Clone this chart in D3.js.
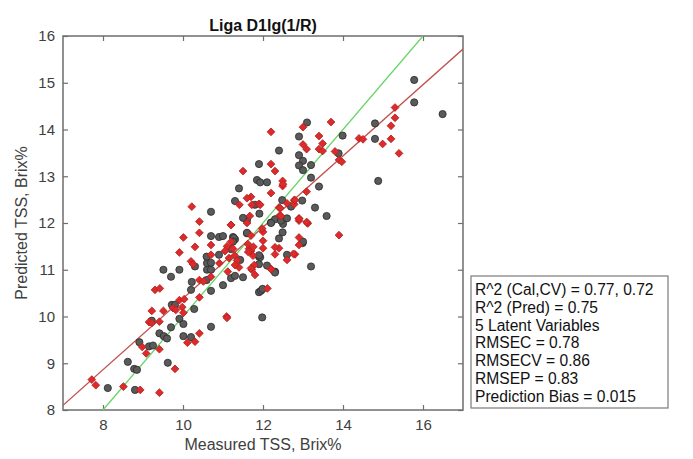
<!DOCTYPE html>
<html>
<head>
<meta charset="utf-8">
<script src="https://cdn.jsdelivr.net/npm/d3@7"></script>
<style>
  body { margin: 0; background: #fff; }
  svg { font-family: "Liberation Sans", Arial, sans-serif; }
</style>
</head>
<body>
<div id="chart"></div>
<script>
// Measured vs predicted TSS scatter with 1:1 line and fit line

// calibration points (gray circles), [measured, predicted]
const calPoints = [
  [8.12,8.47],[8.8,8.43],[8.62,9.03],[8.78,8.88],[8.85,8.86],[9.15,9.36],[9.25,9.38],[8.91,9.45],
  [9.22,9.91],[9.41,9.64],[9.52,9.58],[9.6,9.53],[9.62,9.01],[9.7,9.77],[9.91,9.95],[10.01,9.84],
  [10.01,9.58],[10.2,9.56],[10.7,9.78],[9.72,10.25],[9.8,10.25],[10.28,10.16],[10.2,10.57],[10.22,10.74],
  [9.51,11.0],[9.7,10.85],[9.91,11.0],[10.3,11.07],[10.59,10.78],[10.7,10.55],[10.6,11.0],[10.7,11.0],
  [10.6,11.14],[10.7,11.15],[10.59,11.28],[10.9,11.32],[10.7,11.72],[10.9,11.7],[11.0,11.72],[11.25,11.7],
  [11.3,11.65],[11.0,10.67],[11.2,10.82],[11.3,10.87],[11.5,10.84],[11.43,11.21],[11.6,11.78],[11.9,11.28],
  [11.9,10.52],[11.98,9.98],[11.6,12.06],[11.9,11.12],[12.1,11.09],[12.3,10.96],[11.95,10.55],[12.2,12.01],
  [12.5,11.98],[12.49,11.8],[12.4,11.67],[12.99,11.57],[12.6,11.32],[13.2,11.07],[12.3,10.94],[11.93,11.27],
  [11.99,10.59],[11.9,13.26],[11.85,12.92],[11.4,12.74],[11.3,12.47],[10.7,12.24],[11.5,12.11],[11.8,12.39],
  [15.78,15.06],[15.78,14.58],[16.49,14.33],[14.8,14.13],[14.8,13.8],[13.99,13.87],[13.1,14.15],[12.9,13.85],
  [12.4,13.55],[12.9,13.45],[13.0,13.33],[12.9,13.23],[13.2,13.24],[13.0,13.13],[13.2,12.97],[11.93,12.87],
  [12.1,12.87],[13.4,12.78],[14.88,12.9],[13.89,13.49],[12.48,12.49],[12.98,12.48],[12.7,12.35],[13.3,12.33],
  [13.59,12.15],[12.3,12.08],[12.45,12.05],[12.6,12.1],[12.2,12.0],[11.91,12.2],[11.6,11.79],[11.27,11.68],
  [13.0,11.6],[11.9,11.31],[11.2,11.44],[11.25,11.6]
];

// prediction points (red diamonds), [measured, predicted]
const predPoints = [
  [7.72,8.65],[7.82,8.53],[8.51,8.5],[8.93,8.43],[9.41,8.37],[9.8,8.88],[9.41,9.3],[9.08,9.21],
  [8.98,9.35],[9.15,9.88],[9.22,9.86],[9.22,10.12],[9.41,9.89],[9.51,10.12],[9.3,10.57],[9.42,10.6],
  [9.75,10.18],[9.82,10.14],[9.91,10.35],[10.03,10.37],[9.98,10.2],[10.01,10.08],[9.91,11.37],[10.01,11.69],
  [10.11,9.44],[10.3,9.46],[10.41,9.64],[10.41,10.41],[10.2,11.18],[10.25,11.12],[10.41,10.78],[10.51,10.75],
  [10.3,11.49],[10.41,11.79],[10.41,12.03],[10.7,11.53],[10.7,11.32],[10.7,10.85],[10.91,11.14],[11.09,10.0],
  [11.12,10.96],[11.2,11.96],[11.1,11.5],[11.2,11.6],[11.25,11.45],[11.05,11.4],[11.3,11.3],[11.15,11.25],
  [11.35,11.2],[11.4,11.05],[11.3,11.1],[11.65,11.45],[11.7,11.4],[11.75,11.3],[11.78,11.1],[11.72,11.0],
  [11.62,11.55],[11.7,11.03],[11.8,10.89],[12.2,11.02],[11.1,9.97],[12.11,10.6],[12.9,12.05],[13.12,11.99],
  [13.9,11.74],[12.9,11.69],[12.9,11.53],[12.4,11.46],[12.3,11.33],[12.6,11.21],[12.8,11.33],[12.2,11.01],
  [12.0,11.81],[12.0,11.62],[12.0,11.46],[11.5,13.11],[10.22,12.35],[11.41,12.39],[11.7,12.56],[11.6,12.53],
  [11.72,12.39],[11.9,12.41],[11.2,11.96],[11.67,12.15],[11.6,12.0],[11.98,11.88],[12.43,12.15],[12.9,12.1],
  [13.1,12.01],[11.7,11.73],[11.76,11.49],[12.3,11.48],[12.76,11.34],[11.63,11.38],[12.2,13.95],[13.0,14.05],
  [13.7,14.16],[13.4,13.86],[13.49,13.7],[13.0,13.68],[13.09,13.58],[13.4,13.58],[13.49,13.54],[13.8,13.53],
  [13.9,13.35],[13.97,13.31],[14.4,13.81],[14.5,13.79],[14.99,13.69],[15.2,13.8],[15.2,14.08],[15.3,14.25],
  [15.3,14.47],[15.4,13.49],[12.2,13.26],[12.3,13.11],[12.49,12.9],[12.49,12.79],[12.2,12.64],[13.09,12.67],
  [12.78,12.49],[12.78,12.4],[12.6,12.42],[12.4,12.33],[12.45,12.15],[12.9,12.09],[13.09,12.02],[11.93,12.39],
  [12.5,12.83],[12.8,12.49],[12.43,12.32]
];

// reference lines: 1:1 and fitted regression
const idealLine = [[8, 8], [16, 16]];
const fitLine = [[7, 8.1], [17, 15.72]];

const xTicks = [8, 10, 12, 14, 16];
const yTicks = [8, 9, 10, 11, 12, 13, 14, 15, 16];

const statsLines = [
  "R^2 (Cal,CV) = 0.77, 0.72",
  "R^2 (Pred) = 0.75",
  "5 Latent Variables",
  "RMSEC = 0.78",
  "RMSECV = 0.86",
  "RMSEP = 0.83",
  "Prediction Bias = 0.015"
];

const width = 693, height = 459;
const plot = { left: 63, right: 463, top: 36, bottom: 410 };

const svg = d3.select("#chart").append("svg")
  .attr("width", width)
  .attr("height", height);

const x = d3.scaleLinear().domain([7, 17]).range([plot.left, plot.right]);
const y = d3.scaleLinear().domain([8, 16]).range([plot.bottom, plot.top]);

// clip so lines stay in the box
svg.append("clipPath").attr("id", "clip")
  .append("rect")
  .attr("x", plot.left).attr("y", plot.top)
  .attr("width", plot.right - plot.left).attr("height", plot.bottom - plot.top);

const axisColor = "#6e6e6e";
const textColor = "#404040";

// axes, ticks pointing inward like matlab
const xAxis = svg.append("g")
  .attr("transform", `translate(0,${plot.bottom})`)
  .call(d3.axisBottom(x).tickValues(xTicks).tickSizeInner(-5).tickSizeOuter(0).tickPadding(9));
const xAxisTop = svg.append("g")
  .attr("transform", `translate(0,${plot.top})`)
  .call(d3.axisTop(x).tickValues(xTicks).tickSizeInner(-5).tickSizeOuter(0).tickFormat(""));
const yAxis = svg.append("g")
  .attr("transform", `translate(${plot.left},0)`)
  .call(d3.axisLeft(y).tickValues(yTicks).tickSizeInner(-5).tickSizeOuter(0).tickPadding(8));
const yAxisRight = svg.append("g")
  .attr("transform", `translate(${plot.right},0)`)
  .call(d3.axisRight(y).tickValues(yTicks).tickSizeInner(-5).tickSizeOuter(0).tickFormat(""));

[xAxis, xAxisTop, yAxis, yAxisRight].forEach(function (g) {
  g.select(".domain").remove();
  g.selectAll(".tick line").attr("stroke", axisColor).attr("stroke-width", 1.2);
  g.selectAll(".tick text").attr("fill", textColor).style("font-size", "15px")
    .style("font-family", "'Liberation Sans', Arial, sans-serif");
});

svg.append("rect")
  .attr("x", plot.left).attr("y", plot.top)
  .attr("width", plot.right - plot.left).attr("height", plot.bottom - plot.top)
  .attr("fill", "none")
  .attr("stroke", axisColor)
  .attr("stroke-width", 1.5);

const line = d3.line().x(d => x(d[0])).y(d => y(d[1]));

const marks = svg.append("g").attr("clip-path", "url(#clip)");

marks.append("path")
  .datum(fitLine)
  .attr("d", line)
  .attr("fill", "none")
  .attr("stroke", "#c0504d")
  .attr("stroke-width", 1.3);

marks.append("path")
  .datum(idealLine)
  .attr("d", line)
  .attr("fill", "none")
  .attr("stroke", "#66d466")
  .attr("stroke-width", 1.3);

// gray circles
marks.selectAll("circle.cal")
  .data(calPoints)
  .enter().append("circle")
  .attr("class", "cal")
  .attr("cx", d => x(d[0]))
  .attr("cy", d => y(d[1]))
  .attr("r", 3.6)
  .attr("fill", "#5a5a5a")
  .attr("stroke", "#2a2a2a")
  .attr("stroke-width", 0.8);

// red diamonds
const diamond = d3.symbol().type(d3.symbolSquare).size(30);
marks.selectAll("path.pred")
  .data(predPoints)
  .enter().append("path")
  .attr("class", "pred")
  .attr("d", diamond)
  .attr("transform", d => `translate(${x(d[0])},${y(d[1])}) rotate(45)`)
  .attr("fill", "#dd2a2a")
  .attr("stroke", "#b22222")
  .attr("stroke-width", 0.8);

// title and axis labels
svg.append("text")
  .attr("x", (plot.left + plot.right) / 2)
  .attr("y", 31)
  .attr("text-anchor", "middle")
  .style("font-size", "16px")
  .style("font-weight", "bold")
  .attr("fill", "#111")
  .text("Liga D1lg(1/R)");

svg.append("text")
  .attr("x", (plot.left + plot.right) / 2)
  .attr("y", 450)
  .attr("text-anchor", "middle")
  .style("font-size", "16px")
  .attr("fill", textColor)
  .text("Measured TSS, Brix%");

svg.append("text")
  .attr("transform", `translate(27,${(plot.top + plot.bottom) / 2}) rotate(-90)`)
  .attr("text-anchor", "middle")
  .style("font-size", "16px")
  .attr("fill", textColor)
  .text("Predicted TSS, Brix%");

// stats box
const box = svg.append("g").attr("transform", "translate(471,276)");
box.append("rect")
  .attr("width", 197).attr("height", 132)
  .attr("fill", "#fff")
  .attr("stroke", "#7a7a7a")
  .attr("stroke-width", 1.2);
box.selectAll("text")
  .data(statsLines)
  .enter().append("text")
  .attr("x", 4)
  .attr("y", (d, i) => 19 + i * 17.8)
  .style("font-size", "15.6px")
  .attr("fill", "#111")
  .text(d => d);
</script>
</body>
</html>
